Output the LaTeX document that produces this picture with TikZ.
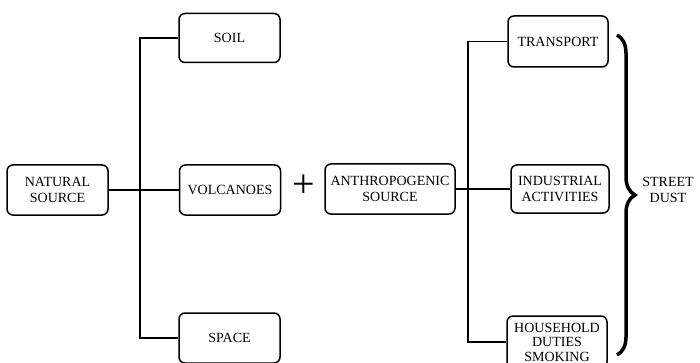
\documentclass[tikz,border=0pt]{standalone}
\usepackage{fontspec}
\setmainfont{Liberation Serif}
\newfontfamily\labelfont{Liberation Serif}
\usetikzlibrary{decorations.pathreplacing}

\tikzset{
  srcbox/.style={draw,line width=1.5pt,rounded corners=6pt,align=center,
    inner sep=2pt,minimum height=50pt,font=\labelfont\fontsize{14}{16.5}\selectfont},
  link/.style={line width=1.5pt},
}

\begin{document}
\begin{tikzpicture}[x=1pt,y=-1pt]
\path[use as bounding box] (0,0) rectangle (700,363);
\path[fill=white,draw=none] (0,0) rectangle (700,363);

% natural side
\node[srcbox,minimum width=101pt] (natural) at (57.5,190) {NATURAL\\SOURCE};
\node[srcbox,minimum width=101pt,minimum height=49pt] (soil) at (229.5,38) {SOIL};
\node[srcbox,minimum width=101pt] (volcanoes) at (230,190) {VOLCANOES};
\node[srcbox,minimum width=101pt] (space) at (229.5,338) {SPACE};
\coordinate (lspine) at (140,0);
\draw[link] (natural) -- (volcanoes);
\draw[link] (soil.west) -- (soil.west -| lspine) -- (space.west -| lspine) -- (space.west);

\node[font=\labelfont\fontsize{40}{40}\selectfont,inner sep=0pt] (plus) at (304,186) {+};

% anthropogenic side
\node[srcbox,minimum width=130pt] (anthro) at (390,189) {ANTHROPOGENIC\\SOURCE};
\node[srcbox,minimum width=100pt,minimum height=51pt] (transport) at (558,41.5) {TRANSPORT};
\node[srcbox,minimum width=98pt,minimum height=48pt] (industrial) at (560,189) {INDUSTRIAL\\ACTIVITIES};
\node[srcbox,minimum width=100pt,minimum height=52pt,font=\labelfont\fontsize{14}{14.5}\selectfont] (household) at (557,342) {HOUSEHOLD\\DUTIES\\SMOKING};
\coordinate (rspine) at (468,0);
\draw[link] (anthro) -- (industrial);
\draw[link] (transport.west) -- (transport.west -| rspine) -- (household.west -| rspine) -- (household.west);

% street dust
\coordinate (btop) at (617,35);
\coordinate (bbot) at (617,355);
\draw[line width=3.5pt,decorate,decoration={brace,amplitude=18pt}] (btop) -- (bbot);
\node[align=center,font=\labelfont\fontsize{14}{16.5}\selectfont] (dust) at (668,190) {STREET\\DUST};
\end{tikzpicture}
\end{document}
